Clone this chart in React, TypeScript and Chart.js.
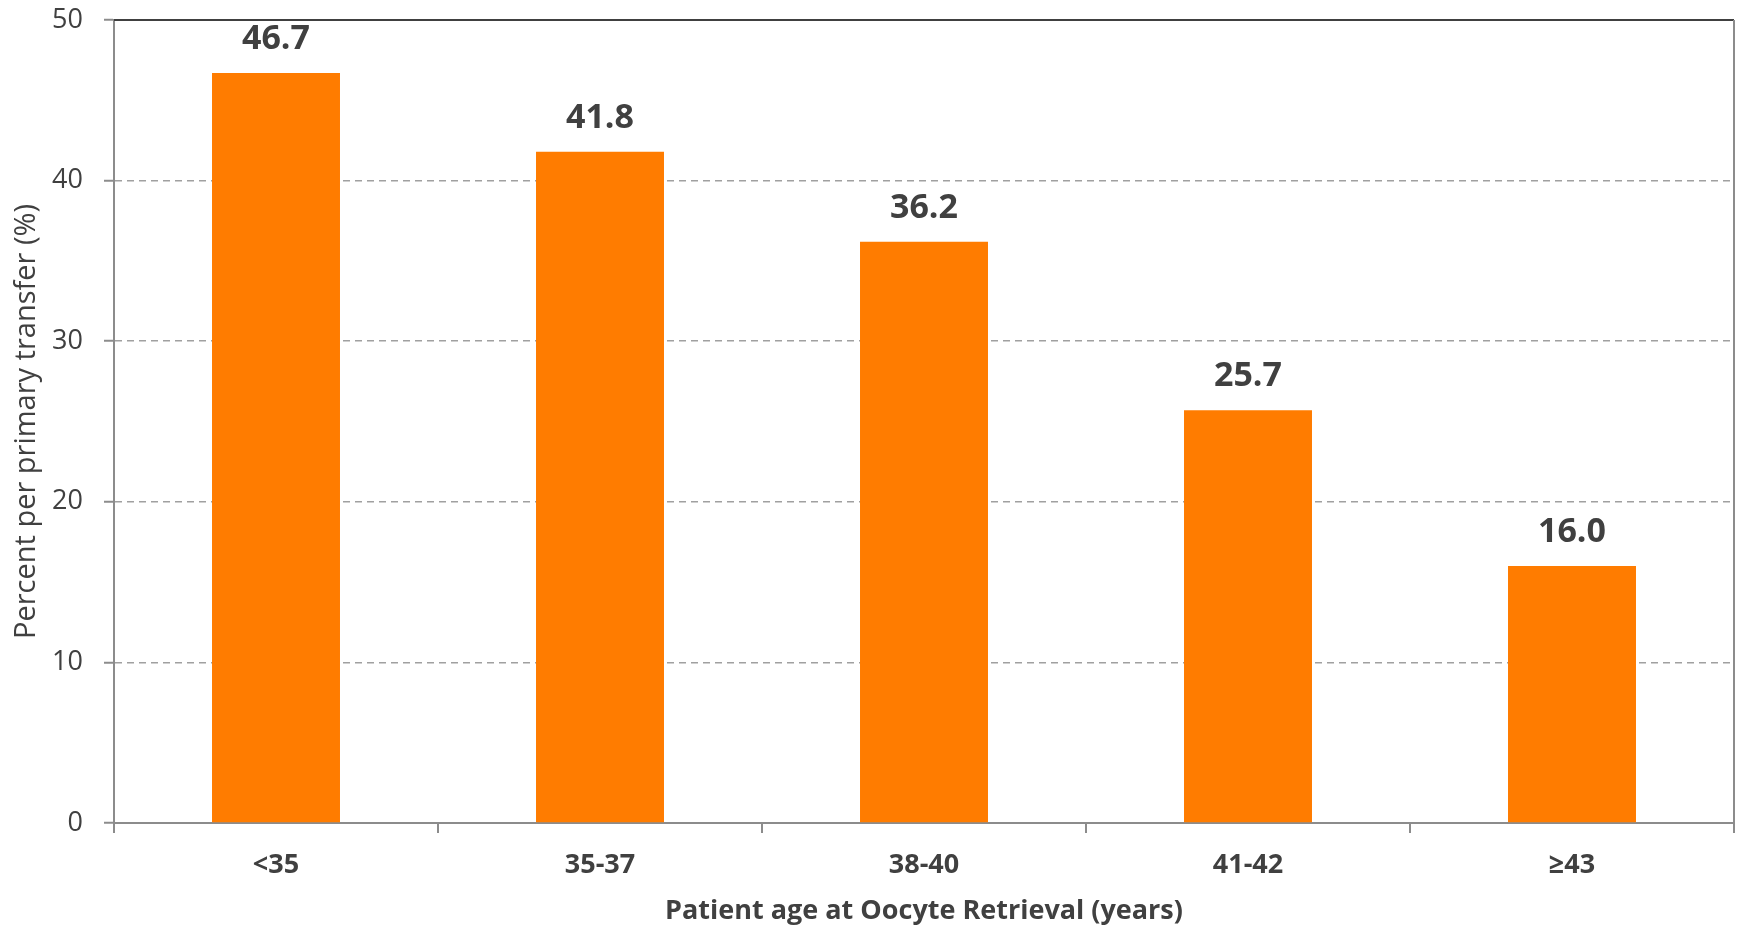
import React, { useEffect, useRef } from "react";
import { Chart, registerables } from "chart.js";

Chart.register(...registerables);

const categories = ["<35", "35-37", "38-40", "41-42", "≥43"];
const values = [46.7, 41.8, 36.2, 25.7, 16.0];
const yTicks = [0, 10, 20, 30, 40, 50];

const FONT = "'Open Sans', 'DejaVu Sans', sans-serif";
const TEXT = "#404040";
const AXIS = "#8c8c8c";

const framePlugin = {
  id: "frame",
  afterDraw(chart: any) {
    const { ctx, chartArea } = chart;
    ctx.save();
    ctx.lineWidth = 2;
    ctx.strokeStyle = "#404040";
    ctx.beginPath();
    ctx.moveTo(chartArea.left, chartArea.top);
    ctx.lineTo(chartArea.right, chartArea.top);
    ctx.stroke();
    ctx.strokeStyle = AXIS;
    ctx.beginPath();
    ctx.moveTo(chartArea.right, chartArea.top);
    ctx.lineTo(chartArea.right, chartArea.bottom);
    ctx.stroke();
    ctx.restore();
  },
};

const labelPlugin = {
  id: "barLabels",
  afterDatasetsDraw(chart: any) {
    const { ctx } = chart;
    const meta = chart.getDatasetMeta(0);
    ctx.save();
    ctx.font = `bold 34px ${FONT}`;
    ctx.fillStyle = TEXT;
    ctx.textAlign = "center";
    ctx.textBaseline = "alphabetic";
    meta.data.forEach((bar: any, i: number) => {
      ctx.fillText(values[i].toFixed(1), bar.x, bar.y - 24);
    });
    ctx.restore();
  },
};

export default function App() {
  const ref = useRef<HTMLCanvasElement | null>(null);
  useEffect(() => {
    if (!ref.current) return;
    const chart = new Chart(ref.current, {
      type: "bar",
      data: {
        labels: categories,
        datasets: [
          {
            data: values,
            backgroundColor: "#FF7C00",
            borderWidth: 0,
            categoryPercentage: 1,
            barPercentage: 0.395,
          },
        ],
      },
      options: {
        responsive: false,
        animation: false,
        layout: { padding: { top: 20, right: 5, bottom: 0, left: 0 } },
        plugins: {
          legend: { display: false },
          tooltip: { enabled: false },
        },
        scales: {
          x: {
            offset: true,
            grid: {
              display: true,
              offset: true,
              drawOnChartArea: false,
              drawTicks: true,
              tickLength: 10,
              color: AXIS,
              lineWidth: 2,
            },
            border: { display: true, color: AXIS, width: 2 },
            ticks: {
              color: TEXT,
              padding: 16,
              font: { family: FONT, size: 27, weight: "bold" },
            },
            title: {
              display: true,
              text: "Patient age at Oocyte Retrieval (years)",
              color: TEXT,
              padding: { top: 0, bottom: 0 },
              font: { family: FONT, size: 27, weight: "bold" },
            },
            afterFit(scale: any) {
              scale.height = 105;
              scale.paddingLeft = 0;
              scale.paddingRight = 0;
            },
          },
          y: {
            min: 0,
            max: 50,
            afterBuildTicks(scale: any) {
              scale.ticks = yTicks.map((v) => ({ value: v }));
            },
            grid: {
              color: (c: any) =>
                c.tick && (c.tick.value === 0 || c.tick.value === 50)
                  ? "rgba(0,0,0,0)"
                  : "#a0a0a0",
              lineWidth: 1.5,
              tickColor: AXIS,
              tickWidth: 2,
              tickLength: 10,
              tickBorderDash: [],
            },
            border: { display: true, color: AXIS, width: 2, dash: [7, 5] },
            ticks: {
              color: TEXT,
              padding: 21,
              font: { family: FONT, size: 27 },
            },
            title: {
              display: true,
              text: "Percent per primary transfer (%)",
              color: TEXT,
              padding: { top: 9, bottom: 0 },
              font: { family: FONT, size: 29 },
            },
            afterFit(scale: any) {
              scale.width = 114;
              scale.paddingTop = 0;
              scale.paddingBottom = 0;
            },
          },
        },
      },
      plugins: [framePlugin, labelPlugin],
    });
    return () => chart.destroy();
  }, []);

  return (
    <div style={{ position: "fixed", left: 0, top: 0, width: 1739, height: 928, background: "#fff" }}>
      <canvas ref={ref} width={1739} height={928} style={{ display: "block" }} />
    </div>
  );
}
